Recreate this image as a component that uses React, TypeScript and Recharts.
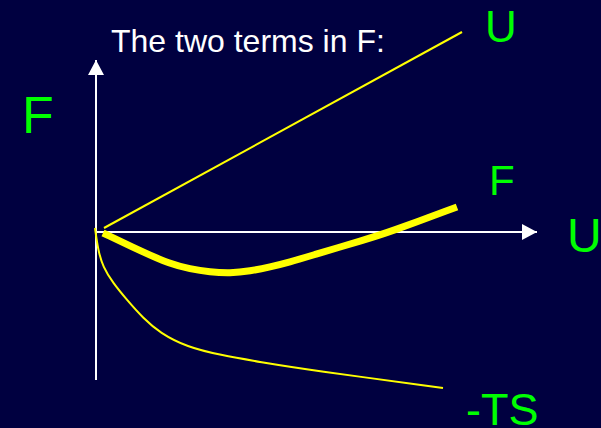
import React from "react";
import {
  ComposedChart,
  Line,
  XAxis,
  YAxis,
  ReferenceLine,
  Customized,
} from "recharts";

// Axis units: x = U, y = energy terms (origin at the crossing of the two axes)
const U_TERM = [
  { x: 0.2, y: 0.1 },
  { x: 9.15, y: 5.0 },
];

const TS_TERM = [
  { x: -0.025, y: 0.1 },
  { x: 0.05, y: -0.45 },
  { x: 0.175, y: -0.875 },
  { x: 0.425, y: -1.275 },
  { x: 0.775, y: -1.7 },
  { x: 1.175, y: -2.15 },
  { x: 1.6, y: -2.525 },
  { x: 2.275, y: -2.875 },
  { x: 3.1, y: -3.075 },
  { x: 4.1, y: -3.25 },
  { x: 5.35, y: -3.45 },
  { x: 8.675, y: -3.9 },
];

const F_TERM = [
  { x: 0.175, y: -0.025 },
  { x: 1.175, y: -0.5 },
  { x: 1.85, y: -0.8 },
  { x: 2.35, y: -0.925 },
  { x: 2.85, y: -1.0 },
  { x: 3.35, y: -1.03 },
  { x: 3.85, y: -0.98 },
  { x: 4.35, y: -0.875 },
  { x: 4.85, y: -0.75 },
  { x: 5.35, y: -0.6 },
  { x: 6.775, y: -0.175 },
  { x: 7.275, y: -0.025 },
  { x: 9.025, y: 0.625 },
];

const X_AXIS_SPAN = [0, 11.025];
const Y_AXIS_SPAN = [-3.7, 4.3];

const TITLE = "The two terms in F:";

const BG = "#000040";
const YELLOW = "#ffff00";
const GREEN = "#00ff00";
const FONT = "'Liberation Sans', Arial, sans-serif";

function Labels() {
  return (
    <g fontFamily={FONT}>
      <text x={111} y={52} fill="#ffffff" fontSize={32}>
        {TITLE}
      </text>
      <text x={22} y={133} fill={GREEN} fontSize={52}>
        F
      </text>
      <text x={485} y={42} fill={GREEN} fontSize={44}>
        U
      </text>
      <text x={489} y={195} fill={GREEN} fontSize={42}>
        F
      </text>
      <text x={567} y={252} fill={GREEN} fontSize={48}>
        U
      </text>
      <text x={466} y={425} fill={GREEN} fontSize={45}>
        -TS
      </text>
    </g>
  );
}

export default function App() {
  return (
    <div
      style={{
        position: "absolute",
        left: 0,
        top: 0,
        width: 601,
        height: 428,
        background: BG,
      }}
    >
      <ComposedChart
        width={601}
        height={428}
        margin={{ top: 0, right: 0, bottom: 0, left: 0 }}
      >
        <defs>
          <marker
            id="arrow"
            viewBox="0 0 15 16"
            refX={15}
            refY={8}
            markerWidth={15}
            markerHeight={16}
            markerUnits="userSpaceOnUse"
            orient="auto"
          >
            <path d="M0,0 L15,8 L0,16 z" fill="#ffffff" />
          </marker>
        </defs>
        <XAxis
          type="number"
          dataKey="x"
          domain={[-2.4, 12.625]}
          allowDataOverflow
          hide
        />
        <YAxis
          type="number"
          dataKey="y"
          domain={[-4.9, 5.8]}
          allowDataOverflow
          hide
        />
        <ReferenceLine
          segment={[
            { x: 0, y: Y_AXIS_SPAN[0] },
            { x: 0, y: Y_AXIS_SPAN[1] },
          ]}
          stroke="#ffffff"
          strokeWidth={2}
          markerEnd="url(#arrow)"
        />
        <ReferenceLine
          segment={[
            { x: X_AXIS_SPAN[0], y: 0 },
            { x: X_AXIS_SPAN[1], y: 0 },
          ]}
          stroke="#ffffff"
          strokeWidth={2}
          markerEnd="url(#arrow)"
        />
        <Line
          data={U_TERM}
          dataKey="y"
          type="linear"
          stroke={YELLOW}
          strokeWidth={2}
          dot={false}
          activeDot={false}
          isAnimationActive={false}
        />
        <Line
          data={TS_TERM}
          dataKey="y"
          type="basis"
          stroke={YELLOW}
          strokeWidth={2}
          dot={false}
          activeDot={false}
          isAnimationActive={false}
        />
        <Line
          data={F_TERM}
          dataKey="y"
          type="basis"
          stroke={YELLOW}
          strokeWidth={7}
          dot={false}
          activeDot={false}
          isAnimationActive={false}
        />
        <Customized component={Labels} />
      </ComposedChart>
    </div>
  );
}
